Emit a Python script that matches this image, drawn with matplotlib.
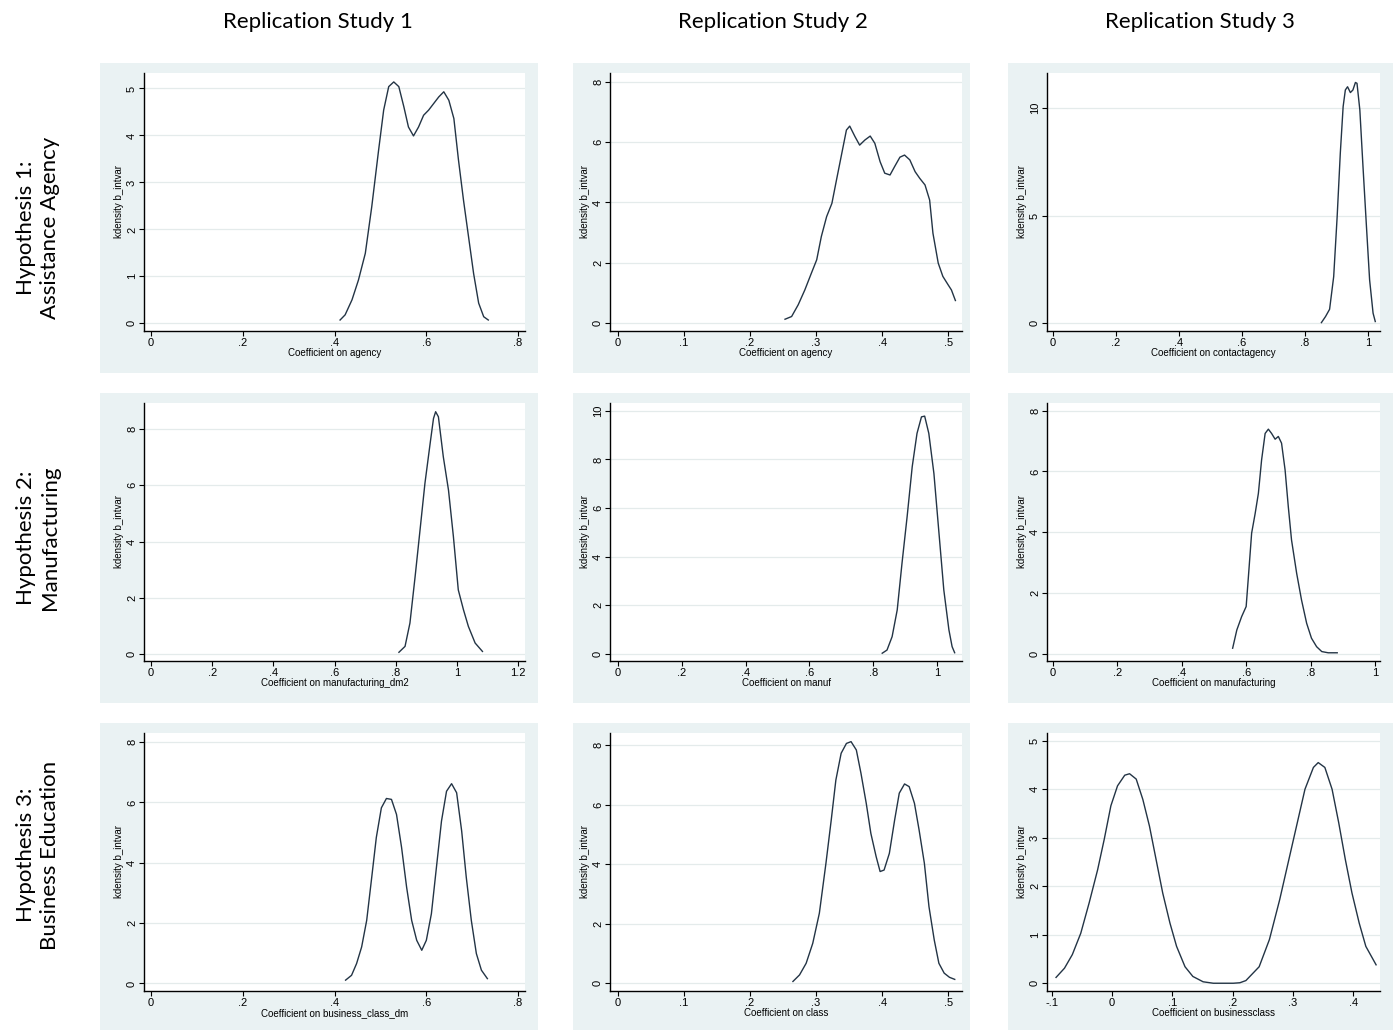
import numpy as np
import matplotlib
matplotlib.use("Agg")
import matplotlib.pyplot as plt
from matplotlib.ticker import FuncFormatter

# ---- data ----
agency1_x = [0.412, 0.423, 0.438, 0.452, 0.467, 0.481, 0.496, 0.507, 0.518, 0.529, 0.540, 0.551,
             0.561, 0.572, 0.583, 0.594, 0.605, 0.616, 0.627, 0.638, 0.649, 0.660, 0.670, 0.681,
             0.692, 0.703, 0.714, 0.725, 0.735]
agency1_y = [0.07, 0.18, 0.50, 0.92, 1.49, 2.48, 3.69, 4.54, 5.04, 5.14, 5.04, 4.61,
             4.18, 3.99, 4.18, 4.43, 4.54, 4.68, 4.82, 4.93, 4.75, 4.36, 3.48, 2.62,
             1.84, 1.06, 0.43, 0.14, 0.07]

agency2_x = [0.253, 0.263, 0.273, 0.283, 0.293, 0.301, 0.308, 0.316, 0.324, 0.331, 0.339, 0.346,
             0.351, 0.359, 0.366, 0.374, 0.382, 0.389, 0.397, 0.404, 0.412, 0.419, 0.427, 0.434,
             0.442, 0.450, 0.457, 0.465, 0.472, 0.477, 0.485, 0.492, 0.500, 0.505, 0.511]
agency2_y = [0.13, 0.22, 0.61, 1.10, 1.66, 2.10, 2.87, 3.53, 3.97, 4.75, 5.63, 6.40,
             6.53, 6.18, 5.90, 6.07, 6.20, 5.96, 5.35, 4.97, 4.91, 5.19, 5.50, 5.57,
             5.41, 5.02, 4.80, 4.58, 4.08, 2.98, 1.99, 1.55, 1.27, 1.10, 0.75]

contact3_x = [0.852, 0.865, 0.878, 0.891, 0.902, 0.912, 0.921, 0.928, 0.935, 0.944, 0.952, 0.960,
              0.965, 0.974, 0.984, 0.995, 1.005, 1.016, 1.023]
contact3_y = [0.03, 0.31, 0.65, 2.17, 4.96, 7.91, 10.08, 10.85, 11.0, 10.73, 10.85, 11.2,
              11.16, 9.92, 7.29, 4.50, 2.02, 0.47, 0.08]

manuf1_x = [0.810, 0.830, 0.846, 0.863, 0.879, 0.895, 0.912, 0.923, 0.930, 0.939, 0.955, 0.972,
            0.988, 1.004, 1.021, 1.037, 1.059, 1.083]
manuf1_y = [0.06, 0.27, 1.10, 2.76, 4.41, 6.07, 7.49, 8.38, 8.62, 8.44, 7.02, 5.83,
            4.18, 2.28, 1.57, 0.98, 0.39, 0.09]

manuf2_x = [0.828, 0.843, 0.859, 0.875, 0.890, 0.906, 0.922, 0.937, 0.951, 0.961, 0.974, 0.990,
            1.005, 1.021, 1.037, 1.047, 1.055]
manuf2_y = [0.03, 0.16, 0.71, 1.81, 3.73, 5.64, 7.70, 9.07, 9.75, 9.78, 9.07, 7.42,
            5.10, 2.63, 0.99, 0.30, 0.05]

manuf3_x = [0.558, 0.571, 0.586, 0.600, 0.607, 0.617, 0.628, 0.638, 0.648, 0.659, 0.669, 0.679,
            0.690, 0.700, 0.710, 0.721, 0.731, 0.741, 0.757, 0.772, 0.788, 0.803, 0.819, 0.835,
            0.855, 0.883]
manuf3_y = [0.19, 0.79, 1.23, 1.56, 2.54, 3.97, 4.62, 5.28, 6.38, 7.25, 7.39, 7.25,
            7.06, 7.15, 6.93, 6.05, 4.84, 3.75, 2.65, 1.78, 1.01, 0.52, 0.24, 0.08,
            0.04, 0.04]

busi1_x = [0.424, 0.437, 0.448, 0.459, 0.470, 0.481, 0.491, 0.502, 0.513, 0.524, 0.535, 0.546,
           0.557, 0.568, 0.579, 0.590, 0.600, 0.611, 0.622, 0.633, 0.644, 0.655, 0.666, 0.677,
           0.687, 0.698, 0.709, 0.720, 0.733]
busi1_y = [0.11, 0.27, 0.66, 1.21, 2.09, 3.52, 4.84, 5.82, 6.13, 6.10, 5.60, 4.51,
           3.19, 2.09, 1.43, 1.10, 1.43, 2.31, 3.85, 5.38, 6.37, 6.62, 6.32, 5.05,
           3.52, 2.09, 0.99, 0.44, 0.16]

class2_x = [0.265, 0.275, 0.285, 0.295, 0.305, 0.315, 0.323, 0.330, 0.338, 0.346, 0.353, 0.361,
            0.368, 0.376, 0.383, 0.391, 0.397, 0.403, 0.411, 0.419, 0.426, 0.434, 0.441, 0.449,
            0.456, 0.464, 0.471, 0.479, 0.486, 0.494, 0.502, 0.510]
class2_y = [0.06, 0.28, 0.67, 1.34, 2.35, 4.03, 5.48, 6.82, 7.72, 8.05, 8.11, 7.83,
            7.05, 6.04, 5.03, 4.25, 3.75, 3.80, 4.36, 5.48, 6.38, 6.69, 6.60, 6.04,
            5.15, 4.03, 2.57, 1.45, 0.67, 0.34, 0.20, 0.13]

busi3_x = [-0.093, -0.079, -0.066, -0.052, -0.038, -0.024, -0.013, -0.002, 0.009, 0.021, 0.029,
           0.040, 0.051, 0.062, 0.073, 0.084, 0.096, 0.107, 0.121, 0.134, 0.151, 0.168, 0.201,
           0.212, 0.222, 0.244, 0.261, 0.278, 0.292, 0.306, 0.320, 0.334, 0.342, 0.353, 0.365,
           0.376, 0.387, 0.398, 0.410, 0.421, 0.438]
busi3_y = [0.12, 0.31, 0.59, 1.03, 1.66, 2.34, 2.97, 3.66, 4.07, 4.29, 4.32,
           4.21, 3.79, 3.24, 2.55, 1.86, 1.24, 0.76, 0.34, 0.14, 0.03, 0.0, 0.0,
           0.01, 0.055, 0.34, 0.90, 1.72, 2.48, 3.24, 4.00, 4.45, 4.55, 4.45, 4.00,
           3.31, 2.55, 1.86, 1.24, 0.76, 0.38]

col_titles = ["Replication Study 1", "Replication Study 2", "Replication Study 3"]
row_titles = ["Hypothesis 1:\nAssistance Agency", "Hypothesis 2:\nManufacturing",
              "Hypothesis 3:\nBusiness Education"]
y_label = "kdensity b_intvar"

# panel: (x, y, xlabel, xticks, yticks, xlim, ylim)
panels = [
    [(agency1_x, agency1_y, "Coefficient on agency", np.arange(0, 0.81, 0.2), np.arange(0, 6, 1),
      (-0.0153, 0.815), (-0.164, 5.33)),
     (agency2_x, agency2_y, "Coefficient on agency", np.arange(0, 0.51, 0.1), np.arange(0, 9, 2),
      (-0.012, 0.521), (-0.26, 8.29)),
     (contact3_x, contact3_y, "Coefficient on contactagency", np.arange(0, 1.01, 0.2), [0, 5, 10],
      (-0.019, 1.038), (-0.36, 11.64))],
    [(manuf1_x, manuf1_y, "Coefficient on manufacturing_dm2", np.arange(0, 1.21, 0.2), np.arange(0, 9, 2),
      (-0.023, 1.222), (-0.25, 8.93)),
     (manuf2_x, manuf2_y, "Coefficient on manuf", np.arange(0, 1.01, 0.2), np.arange(0, 11, 2),
      (-0.025, 1.078), (-0.29, 10.32)),
     (manuf3_x, manuf3_y, "Coefficient on manufacturing", np.arange(0, 1.01, 0.2), np.arange(0, 9, 2),
      (-0.019, 1.016), (-0.23, 8.25))],
    [(busi1_x, busi1_y, "Coefficient on business_class_dm", np.arange(0, 0.81, 0.2), np.arange(0, 9, 2),
      (-0.0153, 0.815), (-0.25, 8.3)),
     (class2_x, class2_y, "Coefficient on class", np.arange(0, 0.51, 0.1), np.arange(0, 9, 2),
      (-0.012, 0.521), (-0.26, 8.4)),
     (busi3_x, busi3_y, "Coefficient on businessclass", np.arange(-0.1, 0.41, 0.1), np.arange(0, 6, 1),
      (-0.108, 0.4445), (-0.16, 5.16))],
]


def stata_fmt(v, pos=None):
    s = f"{round(v, 6):g}"
    if s.startswith("0."):
        s = s[1:]
    elif s.startswith("-0."):
        s = "-" + s[2:]
    if s == "-0":
        s = "0"
    return s


W, H = 1394, 1030
fig = plt.figure(figsize=(W / 100, H / 100), dpi=100)
fig.patch.set_facecolor("white")

# pixel boxes
ax_cols = [(144, 525), (610, 962), (1047, 1380)]
ax_rows = [(73, 331), (403, 661), (733, 991)]
bg_cols = [(100, 538), (573, 970), (1008, 1393)]
bg_rows = [(63, 373), (393, 703), (723, 1030)]

bg_color = "#eaf2f3"
grid_color = "#e4ebeb"
line_color = "#233445"
tick_font = "Liberation Sans"
title_font = ["Lato", "DejaVu Sans"]


def px_rect(xr, yr):
    return [xr[0] / W, 1 - yr[1] / H, (xr[1] - xr[0]) / W, (yr[1] - yr[0]) / H]


# graph-region backgrounds first, so the plot axes sit on top
for r in range(3):
    for c in range(3):
        bg = fig.add_axes(px_rect(bg_cols[c], bg_rows[r]), zorder=0)
        bg.set_facecolor(bg_color)
        bg.set_xticks([])
        bg.set_yticks([])
        for s in bg.spines.values():
            s.set_visible(False)

for r in range(3):
    for c in range(3):
        xs, ys, xlabel, xticks, yticks, xlim, ylim = panels[r][c]
        ax = fig.add_axes(px_rect(ax_cols[c], ax_rows[r]), zorder=1)
        ax.set_facecolor("white")
        ax.plot(xs, ys, color=line_color, lw=1.0, solid_joinstyle="round")
        ax.set_xlim(xlim)
        ax.set_ylim(ylim)
        ax.set_xticks(xticks)
        ax.set_yticks(yticks)
        ax.xaxis.set_major_formatter(FuncFormatter(stata_fmt))
        ax.yaxis.set_major_formatter(FuncFormatter(stata_fmt))
        for yt in yticks:
            ax.axhline(yt, color=grid_color, lw=0.9, zorder=0)
        for side in ["top", "right"]:
            ax.spines[side].set_visible(False)
        for side in ["left", "bottom"]:
            ax.spines[side].set_color("black")
            ax.spines[side].set_linewidth(1.0)
        ax.tick_params(direction="out", length=3.5, width=0.8, pad=1.5, labelsize=8)
        for lab in ax.get_xticklabels() + ax.get_yticklabels():
            lab.set_fontfamily(tick_font)
        for lab in ax.get_yticklabels():
            lab.set_rotation(90)
            lab.set_va("center")
        ax.set_xlabel(xlabel, fontsize=7, fontfamily=tick_font, labelpad=0)
        ax.set_ylabel(y_label, fontsize=7, fontfamily=tick_font, labelpad=2)

col_centers = [318, 773, 1200]
for c, t in enumerate(col_titles):
    fig.text(col_centers[c] / W, 1 - 22 / H, t, ha="center", va="center",
             fontsize=16, fontfamily=title_font)

row_centers = [228, 538, 855]
for r, t in enumerate(row_titles):
    fig.text(38 / W, 1 - row_centers[r] / H, t, ha="center", va="center", rotation=90,
             fontsize=16, fontfamily=title_font, multialignment="center", linespacing=1.2)

fig.savefig("out.png", dpi=100, facecolor="white")
